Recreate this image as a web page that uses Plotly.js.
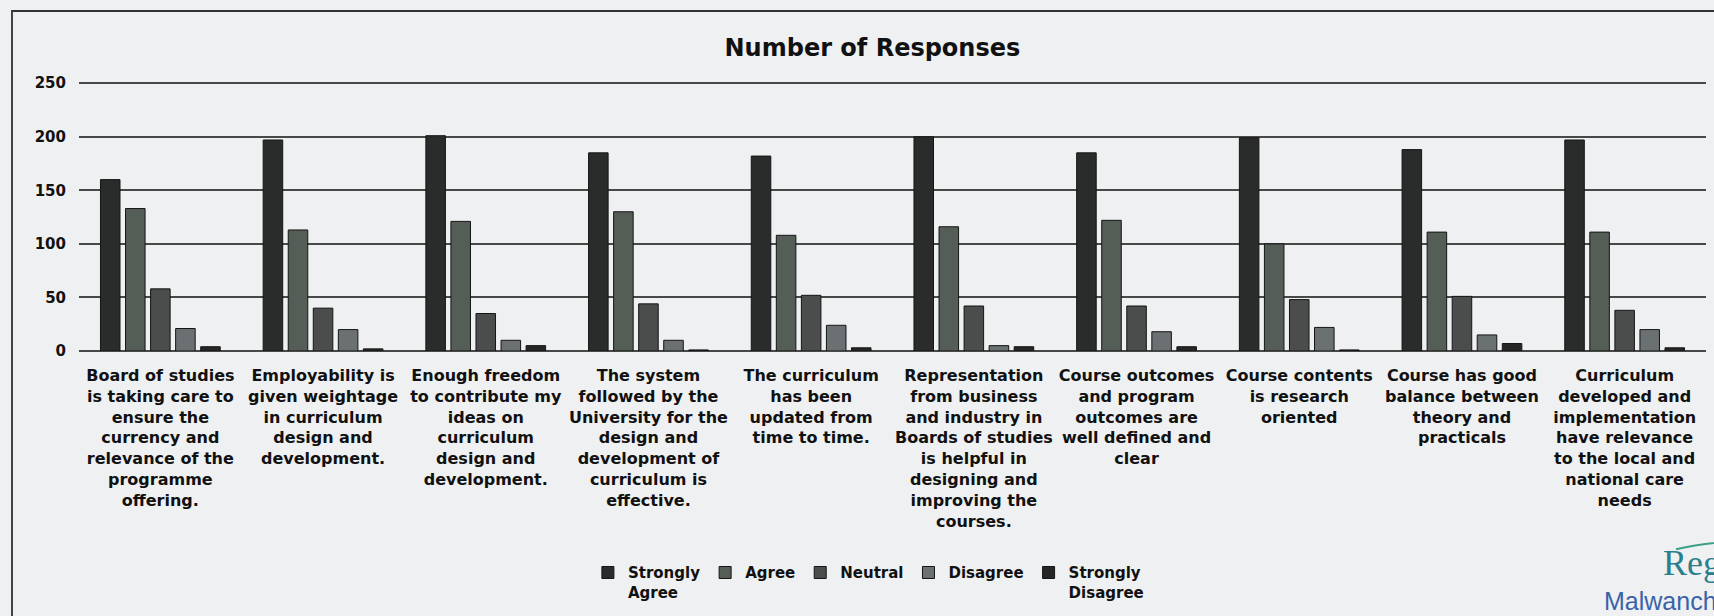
<!DOCTYPE html>
<html>
<head>
<meta charset="utf-8">
<script src="https://cdn.plot.ly/plotly-3.0.1.min.js"></script>
<style>
  html, body { margin: 0; padding: 0; background: #eef0f2; }
  #wrap { position: relative; width: 1714px; height: 616px; }
  #chart { width: 1714px; height: 616px; }
  #frame { position: absolute; left: 11px; top: 10px; width: 1703px; height: 606px;
           border-top: 2px solid #333; border-left: 2px solid #444; pointer-events: none; box-sizing: border-box; }
</style>
</head>
<body>
<div id="wrap">
  <div id="chart"></div>
  <div id="frame"></div>
</div>
<script>
const categories = [
  "Board of studies<br>is taking care to<br>ensure the<br>currency and<br>relevance of the<br>programme<br>offering.",
  "Employability is<br>given weightage<br>in curriculum<br>design and<br>development.",
  "Enough freedom<br>to contribute my<br>ideas on<br>curriculum<br>design and<br>development.",
  "The system<br>followed by the<br>University for the<br>design and<br>development of<br>curriculum is<br>effective.",
  "The curriculum<br>has been<br>updated from<br>time to time.",
  "Representation<br>from business<br>and industry in<br>Boards of studies<br>is helpful in<br>designing and<br>improving the<br>courses.",
  "Course outcomes<br>and program<br>outcomes are<br>well defined and<br>clear",
  "Course contents<br>is research<br>oriented",
  "Course has good<br>balance between<br>theory and<br>practicals",
  "Curriculum<br>developed and<br>implementation<br>have relevance<br>to the local and<br>national care<br>needs"
];

const seriesNames = ["Strongly<br>Agree", "Agree", "Neutral", "Disagree", "Strongly<br>Disagree"];

const stronglyAgree    = [160, 197, 201, 185, 182, 200, 185, 199, 188, 197];
const agree            = [133, 113, 121, 130, 108, 116, 122, 100, 111, 111];
const neutral          = [58, 40, 35, 44, 52, 42, 42, 48, 51, 38];
const disagree         = [21, 20, 10, 10, 24, 5, 18, 22, 15, 20];
const stronglyDisagree = [4, 2, 5, 1, 3, 4, 4, 1, 7, 3];

const yTicks = [0, 50, 100, 150, 200, 250];

const seriesValues = [stronglyAgree, agree, neutral, disagree, stronglyDisagree];
const seriesColors = ["#2a2c2b", "#555d57", "#4b4d4c", "#6b7072", "#262626"];

const font = "DejaVu Sans";

const traces = seriesValues.map((vals, i) => ({
  type: "bar",
  name: seriesNames[i],
  x: categories,
  y: vals,
  marker: { color: seriesColors[i], line: { color: "#151515", width: 1 } },
  hoverinfo: "y+name"
}));

const layout = {
  width: 1714,
  height: 616,
  paper_bgcolor: "#eef0f2",
  plot_bgcolor: "#eef0f2",
  margin: { l: 79, r: 8, t: 80, b: 265, pad: 0 },
  barmode: "group",
  bargap: 0.23,
  bargroupgap: 0.22,
  title: {
    text: "Number of Responses",
    font: { family: font, size: 24, color: "#111", weight: "bold" },
    x: 0.509, xanchor: "center", xref: "container",
    y: 0.922, yanchor: "middle", yref: "container"
  },
  xaxis: {
    type: "category",
    tickangle: 0,
    showgrid: false,
    showline: false,
    ticks: "",
    ticklabelstandoff: 13,
    tickfont: { family: font, size: 16, color: "#111", weight: "bold" },
    automargin: false
  },
  yaxis: {
    range: [0, 253],
    tickvals: yTicks,
    ticktext: yTicks.map(String),
    showgrid: true,
    gridcolor: "#484848",
    gridwidth: 2,
    zeroline: true,
    zerolinecolor: "#484848",
    zerolinewidth: 2,
    showline: false,
    ticks: "",
    ticklabelstandoff: 12,
    tickfont: { family: font, size: 15, color: "#111", weight: "bold" },
    automargin: false
  },
  legend: {
    orientation: "h",
    x: 0.343, xanchor: "left", xref: "container",
    y: 0.097, yanchor: "top", yref: "container",
    valign: "top",
    font: { family: font, size: 15, color: "#111", weight: "bold" },
    bgcolor: "rgba(0,0,0,0)",
    itemclick: false
  },
  shapes: [
    { type: "path", xref: "paper", yref: "paper",
      path: "M 0.9816 -0.7313 Q 1.0 -0.705 1.03 -0.697",
      line: { color: "#3aa08a", width: 2 } }
  ],
  annotations: [
    { text: "Reg", xref: "paper", yref: "paper", x: 0.9723, y: -0.7836, xanchor: "left", yanchor: "middle",
      showarrow: false, font: { family: "Liberation Serif", size: 36, color: "#2b7f8c" } },
    { text: "Malwanch", xref: "paper", yref: "paper", x: 0.936, y: -0.9216, xanchor: "left", yanchor: "middle",
      showarrow: false, font: { family: "Liberation Sans Narrow, Liberation Sans", size: 25, color: "#3a62a8" } }
  ],
  showlegend: true
};

Plotly.newPlot("chart", traces, layout, { displayModeBar: false, staticPlot: true });
</script>
</body>
</html>
